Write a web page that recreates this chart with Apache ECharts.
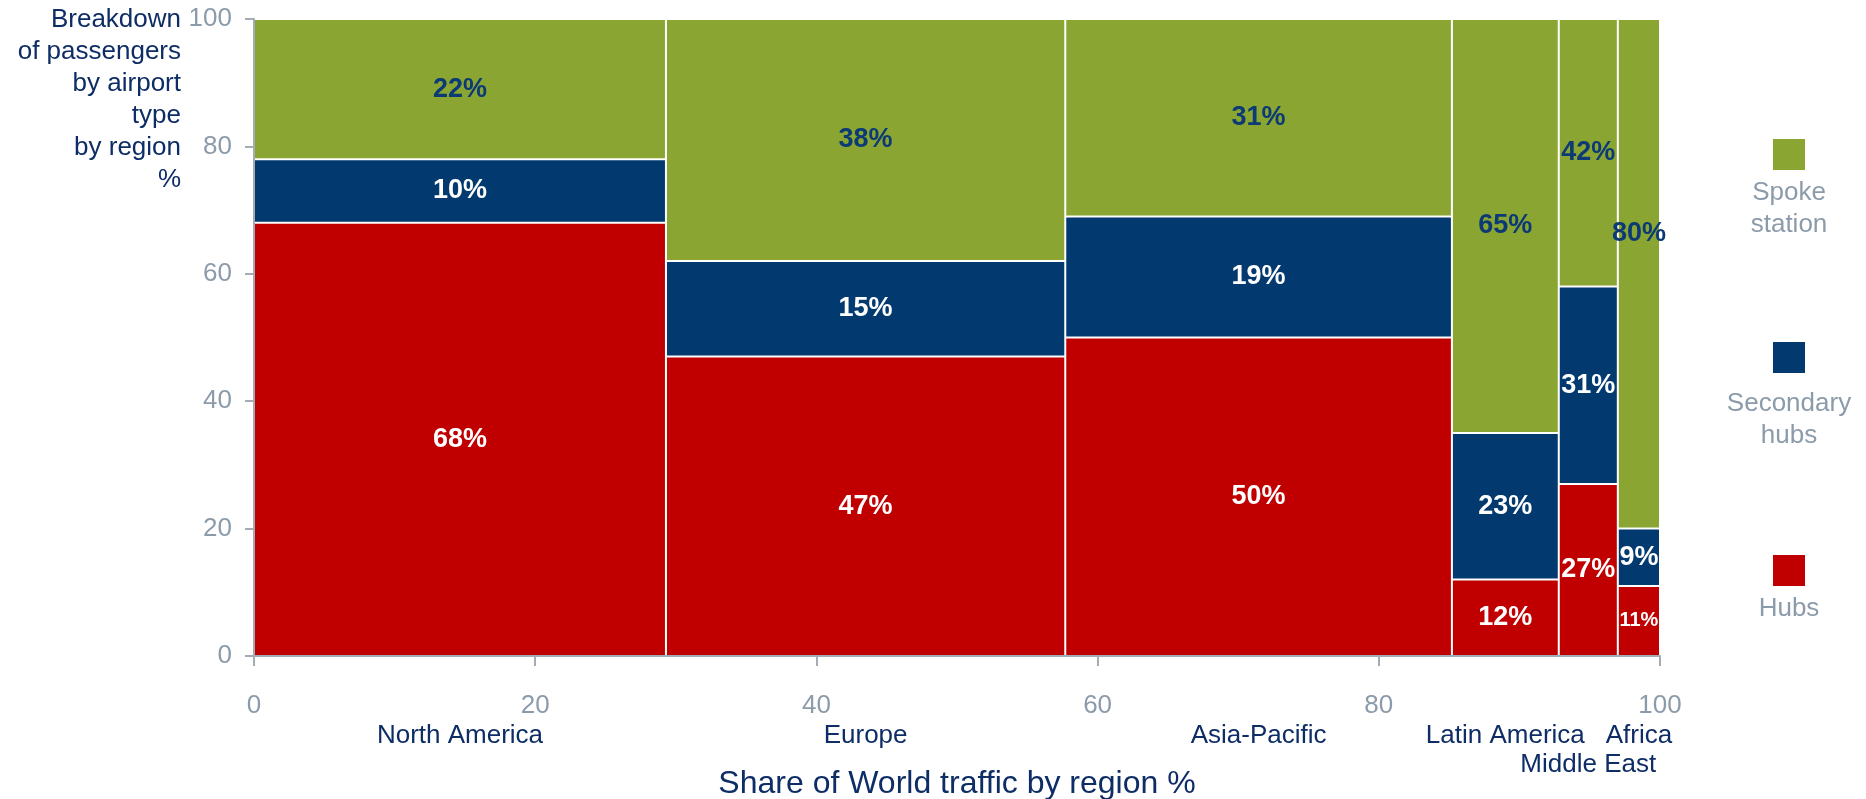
<!DOCTYPE html>
<html>
<head>
<meta charset="utf-8">
<script src="https://cdn.jsdelivr.net/npm/echarts@6/dist/echarts.min.js"></script>
<style>
html,body{margin:0;padding:0;background:#fff;}
#main{width:1866px;height:799px;}
</style>
</head>
<body>
<div id="main"></div>
<script>
// ---- data ----
const regions = ['North America', 'Europe', 'Asia-Pacific', 'Latin America', 'Middle East', 'Africa'];
const regionShare = [29.3, 28.4, 27.5, 7.6, 4.2, 3.0];          // share of world traffic, %
const hubs = [68, 47, 50, 12, 27, 11];                          // %
const secondaryHubs = [10, 15, 19, 23, 31, 9];                  // %
const spokeStation = [22, 38, 31, 65, 42, 80];                  // %
const typeNames = ['Hubs', 'Secondary hubs', 'Spoke station'];
const xTickValues = [0, 20, 40, 60, 80, 100];
const yTickValues = [0, 20, 40, 60, 80, 100];
const xAxisTitle = 'Share of World traffic by region %';
const yAxisTitle = 'Breakdown\nof passengers\nby airport\ntype\nby region\n%';

// ---- style ----
const FONT = '"Liberation Sans", Arial, sans-serif';
const typeColors = ['#C00000', '#023A70', '#8BA533'];
const labelColors = ['#FFFFFF', '#FFFFFF', '#0B3A75'];
const navy = '#0E2D66';
const grey = '#8C9BAA';
const axisGrey = '#A3ACB4';
const secondRowRegions = { 'Middle East': 1 };
const smallLabel = { 'Africa|Hubs': 20 };
const labelShiftY = { 'Africa|Spoke station': -40 };

// ---- build cells ----
const seriesByType = [hubs, secondaryHubs, spokeStation];
const cells = [];
const regionCenters = [];
let xCum = 0;
regions.forEach((r, i) => {
  const x0 = xCum, x1 = xCum + regionShare[i];
  regionCenters.push([(x0 + x1) / 2, r]);
  let yCum = 0;
  seriesByType.forEach((arr, k) => {
    const y0 = yCum, y1 = yCum + arr[i];
    cells.push([x0, x1, y0, y1, arr[i], k, r]);
    yCum = y1;
  });
  xCum = x1;
});

const chart = echarts.init(document.getElementById('main'), null, { renderer: 'canvas' });

const graphics = [{
  type: 'text', x: 181, y: 4,
  style: { text: yAxisTitle, font: '26px ' + FONT, fill: navy, align: 'right', verticalAlign: 'top', lineHeight: 32 }
}];
// legend (top to bottom: spoke, secondary, hubs)
const legendSquareY = [139, 342, 555];
const legendTextY = [177, 388, 593];
[2, 1, 0].forEach((k, j) => {
  graphics.push({ type: 'rect', shape: { x: 1773, y: legendSquareY[j], width: 32, height: 31 }, style: { fill: typeColors[k] } });
  graphics.push({ type: 'text', x: 1789, y: legendTextY[j],
    style: { text: typeNames[k].split(' ').join('\n'), font: '26px ' + FONT, fill: grey, align: 'center', verticalAlign: 'top', lineHeight: 32 } });
});

chart.setOption({
  animation: false,
  backgroundColor: '#fff',
  grid: { left: 254, right: 206, top: 19, bottom: 143, containLabel: false, outerBoundsMode: 'none' },
  xAxis: {
    type: 'value', min: 0, max: 100, interval: 20, z: 5,
    axisLine: { show: true, lineStyle: { color: axisGrey, width: 2 } },
    axisTick: { show: true, length: 10, lineStyle: { color: axisGrey, width: 2 }, customValues: xTickValues },
    axisLabel: { show: true, margin: 37, color: grey, fontSize: 26, fontFamily: FONT, customValues: xTickValues },
    splitLine: { show: false },
    name: xAxisTitle, nameLocation: 'middle', nameGap: 112,
    nameTextStyle: { color: navy, fontSize: 32, fontFamily: FONT }
  },
  yAxis: {
    type: 'value', min: 0, max: 100, interval: 20, z: 5,
    axisLine: { show: true, lineStyle: { color: axisGrey, width: 2 } },
    axisTick: { show: true, length: 9, lineStyle: { color: axisGrey, width: 2 }, customValues: yTickValues },
    axisLabel: { show: true, margin: 22, color: grey, fontSize: 26, fontFamily: FONT, customValues: yTickValues },
    splitLine: { show: false }
  },
  graphic: graphics,
  series: [
    {
      type: 'custom',
      data: cells,
      encode: { x: [0, 1], y: [2, 3] },
      clip: false,
      renderItem: function (params, api) {
        const x0 = api.value(0), x1 = api.value(1), y0 = api.value(2), y1 = api.value(3);
        const v = api.value(4), k = api.value(5);
        const region = cells[params.dataIndex][6];
        const key = region + '|' + typeNames[k];
        const pTL = api.coord([x0, y1]);
        const pBR = api.coord([x1, y0]);
        const w = pBR[0] - pTL[0], h = pBR[1] - pTL[1];
        const fs = smallLabel[key] || 27;
        const dy = labelShiftY[key] || 0;
        return {
          type: 'group',
          children: [
            { type: 'rect', shape: { x: pTL[0] + 1, y: pTL[1] + 1, width: w - 2, height: h - 2 },
              style: { fill: typeColors[k] } },
            { type: 'text', z2: 10,
              style: { text: v + '%', x: pTL[0] + w / 2, y: pTL[1] + h / 2 + dy, align: 'center', verticalAlign: 'middle',
                font: 'bold ' + fs + 'px ' + FONT, fill: labelColors[k] } }
          ]
        };
      }
    },
    {
      type: 'custom',
      data: regionCenters,
      encode: { x: 0 },
      clip: false,
      silent: true,
      renderItem: function (params, api) {
        const name = regionCenters[params.dataIndex][1];
        const p = api.coord([api.value(0), 0]);
        const row = secondRowRegions[name] || 0;
        return {
          type: 'text',
          style: { text: name, x: p[0], y: p[1] + 80 + row * 29, align: 'center', verticalAlign: 'middle',
            font: '26px ' + FONT, fill: navy }
        };
      }
    }
  ]
});
</script>
</body>
</html>
